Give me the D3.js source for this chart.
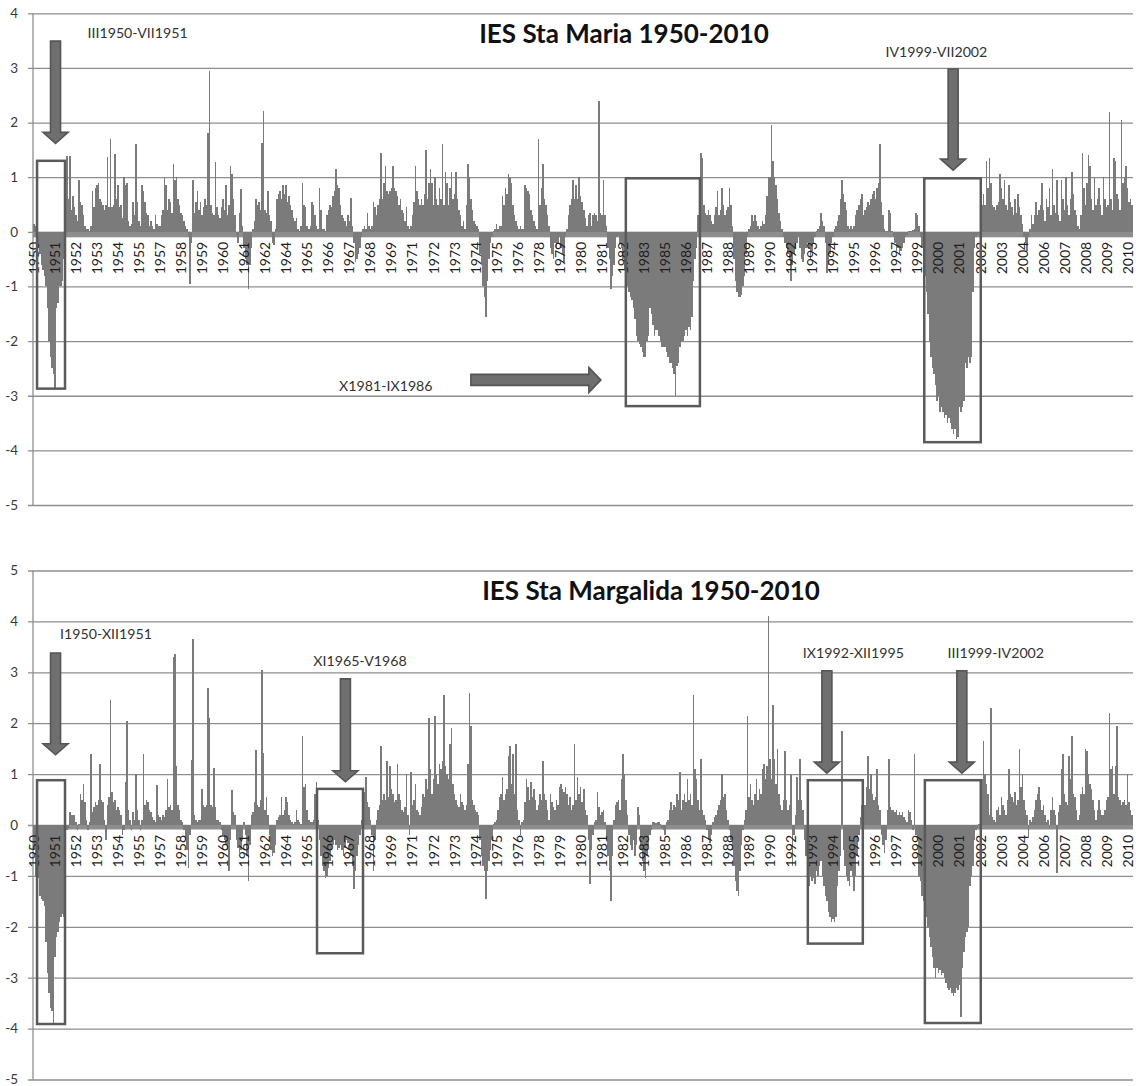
<!DOCTYPE html>
<html>
<head>
<meta charset="utf-8">
<script src="https://cdn.jsdelivr.net/npm/d3@7"></script>
<style>
  body { margin: 0; background: #fff; }
  svg { display: block; }
</style>
</head>
<body>
<svg id="chart" width="1136" height="1086"></svg>
<script>
// Monthly drought index, one row of 12 months (I..XII) per year, 1950-2010.
const years = d3.range(1950, 2011);
const romanMonths = ["I","II","III","IV","V","VI","VII","VIII","IX","X","XI","XII"];

const staMaria = [
  [0.15,0.1,-0.2,-0.3,-0.4,-0.6,-0.7,-0.8,-1.0,-1.4,-2.0,-2.3],
  [-2.5,-2.6,-2.85,-1.4,-1.3,-1.0,-1.0,-0.9,-0.5,0.85,1.38,0.6],
  [1.38,0.4,0.65,0.45,0.3,0.2,0.95,0.55,0.5,0.3,0.1,0.05],
  [0.05,0.02,0.1,0.75,0.45,0.8,0.85,0.9,0.6,0.55,0.5,0.4],
  [0.5,1.37,0.45,1.7,0.45,0.5,1.42,0.6,0.85,0.45,0.5,0.25],
  [1.0,0.85,0.9,0.2,0.1,0.15,0.55,0.3,1.6,0.55,0.2,0.1],
  [0.85,0.75,0.55,0.35,0.3,0.1,0.2,0.1,0.05,0.3,0.15,0.1],
  [0.1,0.3,0.4,0.98,0.85,0.4,0.6,0.55,0.35,1.25,0.95,1.0],
  [0.6,0.5,0.35,0.3,0.2,0.1,0.05,-0.1,-0.95,-0.2,0.95,0.35],
  [0.55,0.75,0.4,0.55,0.3,0.45,0.6,0.5,1.8,2.95,0.5,0.35],
  [0.3,1.28,0.45,0.3,0.25,0.45,0.6,0.4,0.85,0.3,0.5,1.2],
  [1.05,0.6,0.3,-0.05,-0.2,0.35,0.78,0.1,-0.3,-0.5,-0.6,-1.05],
  [-0.6,-0.3,0.05,0.2,0.6,0.5,0.55,0.4,1.62,2.22,0.4,0.35],
  [0.75,0.3,0.2,-0.2,-0.25,0.05,0.6,0.7,0.75,0.6,0.85,0.7],
  [0.85,0.55,0.65,0.5,0.4,0.25,0.2,0.25,0.05,0.02,0.1,0.9],
  [0.5,0.45,0.1,0.05,0.1,0.55,0.5,0.3,0.1,0.05,0.8,0.4],
  [0.05,0.05,0.02,0.3,0.4,0.5,0.45,0.65,0.75,1.15,0.85,0.8],
  [0.5,0.3,0.25,0.2,0.1,0.3,0.2,0.62,0.1,-0.2,-0.55,-0.5],
  [-0.4,-0.3,-0.1,0.05,0.1,0.05,0.35,0.1,0.05,0.1,0.55,0.45],
  [0.3,0.5,0.6,1.45,0.6,0.9,1.2,0.75,0.7,0.75,0.8,1.2],
  [0.8,0.75,0.65,0.5,0.6,0.4,0.35,0.2,0.45,0.1,0.05,0.1],
  [0.3,0.55,1.2,0.75,0.6,0.5,0.6,0.5,0.7,1.5,0.6,0.9],
  [1.15,0.9,0.5,1.0,0.6,0.5,0.8,0.6,1.6,0.5,1.1,0.9],
  [0.5,0.8,1.1,0.6,0.7,1.1,0.6,0.4,0.3,0.1,0.2,0.05],
  [0.5,1.25,1.0,0.6,0.4,0.2,0.15,0.1,0.05,-0.4,-0.6,-1.0],
  [-1.2,-1.55,-0.9,-0.5,-0.2,-0.1,0.02,0.05,0.15,0.05,0.1,0.1],
  [0.65,0.5,0.8,0.7,1.05,1.0,0.9,0.5,0.3,0.2,0.1,0.05],
  [0.1,0.05,0.05,0.85,0.8,0.75,0.7,0.4,0.3,0.2,0.1,0.05],
  [1.7,0.5,0.8,1.25,0.6,0.5,0.3,0.1,-0.3,-0.4,-0.5,-0.2],
  [-0.3,-0.2,-0.1,-0.3,-0.4,-0.55,-0.1,0.05,0.3,0.5,0.6,0.95],
  [0.6,0.85,0.6,1.0,0.65,0.55,0.4,0.25,0.1,0.3,0.35,0.1],
  [0.3,0.35,0.3,0.2,2.4,0.35,0.3,0.95,0.3,0.1,-0.3,-0.5],
  [-1.05,-0.8,-0.6,-0.3,-0.1,-0.05,-0.2,-0.3,-0.5,-0.7,-0.9,-1.0],
  [-1.1,-1.2,-1.25,-1.4,-1.6,-1.9,-2.0,-2.05,-2.1,-2.2,-2.3,-2.3],
  [-2.0,-1.9,-1.4,-1.5,-1.7,-1.9,-1.8,-1.8,-1.9,-2.0,-2.1,-2.1],
  [-2.1,-2.2,-2.3,-2.4,-2.4,-2.5,-2.6,-3.0,-2.45,-2.4,-2.1,-2.0],
  [-2.0,-1.9,-1.8,-1.9,-1.75,-1.8,-1.55,-0.9,-0.5,-0.3,0.3,1.0],
  [1.45,1.35,0.5,0.35,0.3,0.4,0.3,0.2,0.15,0.3,0.45,0.75],
  [0.3,0.4,0.8,0.5,0.3,0.4,0.45,0.8,0.5,0.1,-0.5,-0.9],
  [-1.1,-1.2,-1.2,-1.15,-1.0,-0.8,-0.4,-0.1,0.05,0.1,0.3,0.2],
  [0.3,0.2,0.1,0.05,0.1,0.2,0.15,0.3,0.65,1.0,1.0,1.95],
  [1.3,1.0,0.85,0.6,0.35,0.2,0.05,-0.1,-0.2,-0.3,-0.4,-0.5],
  [-0.9,-0.6,-0.4,-0.3,-0.2,-0.1,-0.3,-0.5,-0.55,-0.4,-0.3,-0.2],
  [-0.3,-0.5,-0.35,-0.2,-0.1,0.02,0.05,0.1,0.35,0.2,0.1,-0.2],
  [-0.75,-0.6,-0.4,-0.2,-0.1,0.05,0.1,0.2,0.3,0.6,0.95,0.7],
  [0.55,0.4,0.1,0.05,0.1,0.05,0.1,0.3,0.4,0.5,0.6,0.7],
  [0.3,0.4,0.45,0.55,0.5,0.6,0.7,0.75,0.6,0.8,0.9,1.6],
  [0.55,0.3,0.05,0.02,0.02,0.4,0.35,0.02,-0.1,-0.2,-0.35,-0.3],
  [-0.4,-0.35,-0.3,-0.2,-0.1,-0.05,0.02,0.02,0.02,0.03,0.05,0.35],
  [0.3,0.1,-0.1,-0.3,-0.5,-0.8,-1.1,-1.5,-2.0,-2.3,-2.5,-2.6],
  [-2.8,-3.1,-3.0,-3.3,-3.2,-3.3,-3.4,-3.35,-3.5,-3.4,-3.5,-3.6],
  [-3.7,-3.6,-3.8,-3.75,-3.2,-3.3,-3.2,-3.1,-2.4,-2.5,-2.3,-2.4],
  [-2.3,-1.1,-0.3,-0.1,-0.05,-0.02,0.02,0.5,0.7,0.5,1.3,0.8],
  [1.35,0.9,0.5,0.45,0.4,0.5,0.55,1.05,0.8,0.6,0.95,0.5],
  [0.4,0.85,0.55,0.45,0.3,0.6,0.35,0.7,0.45,0.3,0.15,-0.1],
  [-0.2,-0.35,-0.1,0.05,0.3,0.15,0.3,0.55,0.3,0.4,0.5,0.9],
  [0.4,0.2,0.6,0.45,0.8,0.3,1.15,0.5,0.35,0.95,0.3,0.2],
  [0.95,0.6,0.4,1.0,0.5,0.3,0.6,1.1,0.7,0.4,0.3,0.1],
  [0.05,0.3,1.45,0.8,0.5,0.9,1.4,1.2,0.6,0.4,1.0,0.5],
  [0.6,0.8,0.5,0.3,1.0,0.6,0.45,0.5,2.2,0.6,0.4,1.35],
  [1.3,0.7,0.6,0.4,2.05,0.9,1.0,1.2,0.8,0.55,0.6,0.5]
];

const staMargalida = [
  [-0.5,-1.0,-1.05,-1.05,-1.4,-1.45,-1.5,-1.6,-2.3,-2.9,-3.3,-3.6],
  [-3.65,-3.9,-2.6,-2.2,-2.1,-1.9,-1.8,-1.75,-1.8,-0.3,-0.1,-0.05],
  [0.25,0.2,0.2,0.2,0.05,-0.1,0.02,0.6,0.5,0.8,0.45,0.1],
  [-0.1,0.05,1.4,0.25,0.35,0.45,0.4,0.5,1.2,0.5,0.45,0.1],
  [-0.3,0.4,0.55,2.45,0.65,0.45,0.5,0.3,0.35,0.3,0.2,-0.2],
  [-0.1,0.85,2.05,0.3,0.1,-0.1,0.25,0.1,1.0,0.3,0.1,-0.1],
  [0.1,1.4,0.4,0.5,0.45,0.3,0.25,0.15,0.1,0.05,0.78,0.2],
  [0.15,0.1,0.2,0.15,0.3,0.9,0.35,0.4,0.3,3.3,3.35,1.15],
  [0.4,0.3,0.1,0.05,-0.1,-0.3,-0.5,-0.85,-0.2,1.28,3.65,0.2],
  [0.1,0.05,0.1,0.1,0.7,0.4,0.35,0.4,2.7,2.1,0.4,0.35],
  [1.12,0.35,0.1,0.1,0.05,-0.1,-0.2,-0.3,-0.4,-0.5,-0.9,-0.3],
  [0.68,0.25,0.2,-0.3,-0.45,-0.55,-0.5,-0.3,0.05,-0.2,-0.6,-1.1],
  [-0.4,0.2,0.25,0.45,1.48,0.4,0.35,0.5,3.05,1.42,0.3,0.55],
  [0.2,-0.2,-0.5,-0.6,-0.55,-0.4,0.1,0.15,0.2,0.55,0.2,0.3],
  [0.55,0.45,0.2,0.1,0.05,0.02,0.05,0.3,0.1,0.05,0.02,1.75],
  [0.75,0.8,0.3,0.1,0.05,0.05,0.1,0.6,0.85,0.1,-0.3,-0.6],
  [-0.8,-0.9,-1.05,-1.0,-0.85,-0.7,-0.5,-0.4,-0.3,-0.4,-0.5,-0.45],
  [-0.4,-0.5,-0.6,-0.45,-0.3,-0.35,-0.5,-0.6,-0.8,-1.25,-0.9,-0.6],
  [-0.4,-0.2,0.1,0.3,0.65,0.95,0.45,0.35,0.1,-0.2,-0.9,-0.3],
  [0.1,0.3,0.4,1.55,0.5,0.6,0.5,1.25,0.55,1.15,0.7,0.6],
  [0.45,0.5,1.2,0.6,0.5,0.3,0.25,0.35,1.0,0.2,-0.2,1.05],
  [0.4,0.5,0.8,0.3,0.25,0.2,0.35,0.6,0.55,0.9,0.7,2.1],
  [1.1,0.6,0.9,2.15,1.0,0.8,1.2,1.1,1.25,2.55,1.15,1.0],
  [0.9,1.6,1.9,0.8,0.6,0.5,0.4,0.35,0.6,0.45,0.4,0.3],
  [0.4,1.2,2.6,1.95,0.5,0.4,0.3,0.25,0.2,-0.3,-0.6,-0.8],
  [-0.9,-1.45,-0.9,-0.7,-0.5,-0.3,0.02,0.05,0.1,0.3,0.55,0.6],
  [0.95,0.5,0.6,0.7,1.35,1.55,0.8,1.4,0.6,1.6,0.3,0.1],
  [-0.2,0.05,0.1,0.45,0.9,0.75,0.5,0.85,0.55,0.7,0.5,0.3],
  [0.4,0.6,0.5,1.25,0.6,0.5,0.3,0.1,0.6,0.45,0.35,0.3],
  [0.5,0.4,0.75,0.8,0.7,0.65,0.75,0.6,0.4,0.55,0.3,0.4],
  [1.6,0.5,0.95,0.6,0.75,0.45,0.7,0.3,0.2,-0.3,-1.15,-0.5],
  [-0.2,0.05,0.1,0.65,0.35,0.2,0.25,0.3,0.05,-0.3,-0.6,-0.9],
  [-1.5,-0.6,0.1,0.4,0.45,0.5,0.3,0.9,1.4,1.0,0.5,0.2],
  [-0.2,-0.4,-0.5,-0.3,-0.6,-0.4,0.35,0.2,-0.5,-0.7,-0.9,-1.05],
  [-0.6,-0.4,-0.2,-0.1,0.05,0.05,0.03,0.05,0.05,0.02,-0.05,-0.1],
  [-0.2,0.05,0.1,0.3,0.45,0.3,0.4,0.35,0.6,0.5,1.05,0.3],
  [0.5,0.6,0.45,0.9,0.5,0.6,0.4,2.55,1.1,0.9,0.5,0.3],
  [1.3,0.3,0.2,0.1,-0.1,-0.3,-0.35,-0.2,0.05,0.15,0.2,0.3],
  [0.4,0.5,1.0,0.55,0.6,0.3,0.1,-0.1,-0.3,-0.5,-0.8,-1.1],
  [-1.3,-1.4,-0.9,-0.4,-0.1,0.1,0.3,2.15,0.55,0.8,0.5,0.4],
  [0.6,0.9,0.5,0.7,0.6,1.1,1.2,0.9,1.15,4.1,1.3,0.9],
  [2.35,1.3,0.8,1.5,0.6,0.4,0.3,0.5,1.45,0.5,0.3,0.4],
  [1.0,-0.8,-0.2,0.2,0.95,0.5,1.3,0.5,0.3,-0.3,-0.6,-0.9],
  [-1.2,-1.0,-1.1,-1.05,-1.15,-0.9,-1.0,-0.8,-0.7,-1.0,-1.2,-1.4],
  [-1.5,-1.7,-1.8,-1.9,-1.85,-1.9,-1.8,-1.2,-0.9,-0.6,1.85,-0.5],
  [-0.8,-1.0,-1.1,-1.2,-0.9,-1.0,-1.3,-1.0,-0.6,-0.2,0.15,0.4],
  [0.8,0.4,0.75,1.35,0.7,1.0,0.6,0.5,0.55,1.1,0.4,0.3],
  [-0.2,-0.4,-0.55,-0.3,0.3,1.3,0.35,0.3,0.3,0.25,0.3,0.2],
  [0.25,0.2,0.25,0.15,0.1,0.05,0.3,0.25,0.1,-0.1,1.4,-0.2],
  [-0.3,-1.0,-1.1,-1.4,-1.5,-1.7,-1.8,-2.0,-2.2,-2.4,-2.6,-2.8],
  [-3.0,-2.8,-2.9,-2.85,-2.95,-2.9,-3.0,-3.1,-3.2,-3.25,-3.2,-3.3],
  [-3.35,-3.3,-3.2,-3.25,-3.15,-3.77,-2.8,-2.5,-2.2,-2.1,-2.0,-1.2],
  [-1.0,-0.8,-0.3,-0.1,-0.05,0.02,0.02,0.9,1.65,1.0,0.8,0.6],
  [0.2,2.3,0.15,0.1,0.05,0.3,0.35,0.2,0.55,0.4,0.3,0.2],
  [0.5,1.1,0.6,0.55,0.45,0.65,0.4,0.5,1.5,0.75,1.0,0.5],
  [0.3,0.2,-0.25,0.1,0.05,0.15,0.3,0.5,0.6,0.75,0.5,0.3],
  [0.4,0.2,0.05,0.1,-0.05,0.3,0.55,0.3,0.2,-0.95,0.25,0.4],
  [1.1,1.4,0.6,0.45,0.4,1.35,0.9,1.75,0.6,0.55,0.3,0.1],
  [0.2,0.6,0.75,0.6,1.5,1.45,1.0,0.8,0.7,0.5,0.3,0.1],
  [0.3,0.5,0.3,0.2,0.2,0.3,0.5,0.55,2.2,1.1,1.15,0.6],
  [1.15,1.95,0.55,0.5,0.4,0.45,0.5,0.4,1.0,0.45,0.3,0.2]
];

const mariaTicks = [4, 3, 2, 1, 0, -1, -2, -3, -4, -5];
const margalidaTicks = [5, 4, 3, 2, 1, 0, -1, -2, -3, -4, -5];
const labelEvery = 14; // one category label every 14 months

// Drought periods framed on each chart (month index along the axis, index value)
const mariaBoxes = [
  { from: 2.7,   to: 21.3,  top: 1.3,  bottom: -2.87 },
  { from: 394.5, to: 443.8, top: 0.98, bottom: -3.19 },
  { from: 593.1, to: 630.7, top: 0.98, bottom: -3.85 }
];
const mariaArrows = [
  { dir: "down",  at: 15.0,  from: 3.49, to: 1.62 },
  { dir: "down",  at: 612.3, from: 2.98, to: 1.13 },
  { dir: "right", at: -2.71, from: 291.4, to: 377.9 }
];
const mariaNotes = [
  { text: "III1950-VII1951", at: 69.6,  value: 3.64 },
  { text: "IV1999-VII2002",  at: 601.2, value: 3.30 },
  { text: "X1981-IX1986",    at: 234.8, value: -2.82 }
];

const margalidaBoxes = [
  { from: 2.7,   to: 21.3,  top: 0.88, bottom: -3.91 },
  { from: 189.0, to: 219.6, top: 0.71, bottom: -2.52 },
  { from: 515.6, to: 552.2, top: 0.88, bottom: -2.33 },
  { from: 593.5, to: 630.7, top: 0.88, bottom: -3.89 }
];
const margalidaArrows = [
  { dir: "down", at: 15.0,  from: 3.38, to: 1.38 },
  { dir: "down", at: 207.9, from: 2.87, to: 0.85 },
  { dir: "down", at: 528.3, from: 3.03, to: 1.02 },
  { dir: "down", at: 618.1, from: 3.03, to: 1.02 }
];
const margalidaNotes = [
  { text: "I1950-XII1951",  at: 48.6,  value: 3.75 },
  { text: "XI1965-V1968",   at: 217.6, value: 3.22 },
  { text: "IX1992-XII1995", at: 545.9, value: 3.38 },
  { text: "III1999-IV2002", at: 640.7, value: 3.38 }
];

// ---------------------------------------------------------------------------
const svg = d3.select("#chart");
const plotLeft = 33, plotRight = 1133;
const barColor = "#7b7b7b";
const gridColor = "#8e8e8e";
const fontStack = "Lato, 'Open Sans', sans-serif";

function monthly(rows) {
  const out = [];
  rows.forEach((row, yi) => row.forEach((v, mi) => out.push({
    key: romanMonths[mi] + years[yi],
    year: years[yi],
    value: v
  })));
  return out;
}

function drawPanel(cfg) {
  const data = monthly(cfg.values);
  const g = svg.append("g");

  const x = d3.scaleBand()
    .domain(data.map(d => d.key))
    .range([plotLeft, plotRight])
    .paddingInner(0)
    .paddingOuter(0);
  // continuous month position used by the annotations
  const xm = d3.scaleLinear().domain([0, data.length]).range([plotLeft, plotRight]);
  const y = d3.scaleLinear().domain(d3.extent(cfg.ticks)).range([cfg.bottom, cfg.top]);

  // horizontal gridlines with short outer ticks
  const yAxis = d3.axisLeft(y).tickValues(cfg.ticks).tickSize(0).tickFormat(d => d);
  const ax = g.append("g").attr("transform", `translate(${plotLeft - 5},0)`).call(yAxis);
  ax.select(".domain").remove();
  ax.selectAll(".tick line")
    .attr("x1", 0).attr("x2", plotRight - plotLeft + 5)
    .attr("stroke", gridColor).attr("stroke-width", 1.3);
  ax.selectAll(".tick text")
    .attr("x", -10)
    .attr("font-family", fontStack)
    .attr("font-size", 13.5)
    .attr("fill", "#3a3a3a");

  // vertical value axis line
  g.append("line")
    .attr("x1", plotLeft).attr("x2", plotLeft)
    .attr("y1", y(cfg.ticks[0])).attr("y2", y(cfg.ticks[cfg.ticks.length - 1]))
    .attr("stroke", gridColor).attr("stroke-width", 1.3);

  // category axis band under zero
  g.append("rect")
    .attr("x", plotLeft).attr("width", plotRight - plotLeft)
    .attr("y", y(0)).attr("height", cfg.axisBand)
    .attr("fill", "#8d8d8d");

  // monthly bars
  g.append("g").attr("shape-rendering", "crispEdges")
    .selectAll("rect").data(data).join("rect")
    .attr("x", d => x(d.key))
    .attr("width", x.bandwidth())
    .attr("y", d => y(Math.max(0, d.value)))
    .attr("height", d => Math.abs(y(d.value) - y(0)))
    .attr("fill", barColor);

  // year labels every 14 months, rotated
  const labelled = data.filter((d, i) => i % labelEvery === 0);
  g.append("g").selectAll("text").data(labelled).join("text")
    .attr("transform", d => `translate(${x(d.key) + x.bandwidth() / 2},${y(0) + 10}) rotate(-90)`)
    .attr("text-anchor", "end")
    .attr("dy", "0.36em")
    .attr("font-family", fontStack)
    .attr("font-size", 14)
    .attr("fill", "#1e1e1e")
    .text(d => d.year);

  // framed drought periods
  g.append("g").selectAll("rect").data(cfg.boxes).join("rect")
    .attr("x", d => xm(d.from))
    .attr("y", d => y(d.top))
    .attr("width", d => xm(d.to) - xm(d.from))
    .attr("height", d => y(d.bottom) - y(d.top))
    .attr("fill", "none")
    .attr("stroke", "#5a5a5a")
    .attr("stroke-width", 2.5);

  // block arrows
  const arrowPath = d => {
    const shaft = 5, head = 12.5, headLen = 11;
    if (d.dir === "down") {
      const cx = xm(d.at), y0 = y(d.from), y1 = y(d.to), yh = y1 - headLen;
      return `M${cx - shaft},${y0}L${cx + shaft},${y0}L${cx + shaft},${yh}L${cx + head},${yh}` +
             `L${cx},${y1}L${cx - head},${yh}L${cx - shaft},${yh}Z`;
    }
    const cy = y(d.at), x0 = xm(d.from), x1 = xm(d.to), xh = x1 - headLen - 1;
    return `M${x0},${cy - shaft - 0.5}L${xh},${cy - shaft - 0.5}L${xh},${cy - head}L${x1},${cy}` +
           `L${xh},${cy + head}L${xh},${cy + shaft + 0.5}L${x0},${cy + shaft + 0.5}Z`;
  };
  g.append("g").selectAll("path").data(cfg.arrows).join("path")
    .attr("d", arrowPath)
    .attr("fill", "#6f6f6f")
    .attr("stroke", "#555555")
    .attr("stroke-width", 1.6)
    .attr("stroke-linejoin", "miter");

  // period labels
  g.append("g").selectAll("text").data(cfg.notes).join("text")
    .attr("x", d => xm(d.at))
    .attr("y", d => y(d.value))
    .attr("dy", "0.35em")
    .attr("text-anchor", "middle")
    .attr("font-family", fontStack)
    .attr("font-size", 14.2)
    .attr("fill", "#333")
    .text(d => d.text);

  // chart title
  g.append("text")
    .attr("x", cfg.titleX)
    .attr("y", cfg.titleY)
    .attr("text-anchor", "middle")
    .attr("font-family", fontStack)
    .attr("font-weight", "bold")
    .attr("font-size", 26)
    .attr("fill", "#111")
    .text(cfg.title);
}

drawPanel({
  values: staMaria, ticks: mariaTicks, top: 13.3, bottom: 505, axisBand: 5.5,
  boxes: mariaBoxes, arrows: mariaArrows, notes: mariaNotes,
  title: "IES Sta Maria 1950-2010", titleX: 624, titleY: 43
});
drawPanel({
  values: staMargalida, ticks: margalidaTicks, top: 570.5, bottom: 1079.5, axisBand: 4.5,
  boxes: margalidaBoxes, arrows: margalidaArrows, notes: margalidaNotes,
  title: "IES Sta Margalida 1950-2010", titleX: 651, titleY: 600
});
</script>
</body>
</html>
